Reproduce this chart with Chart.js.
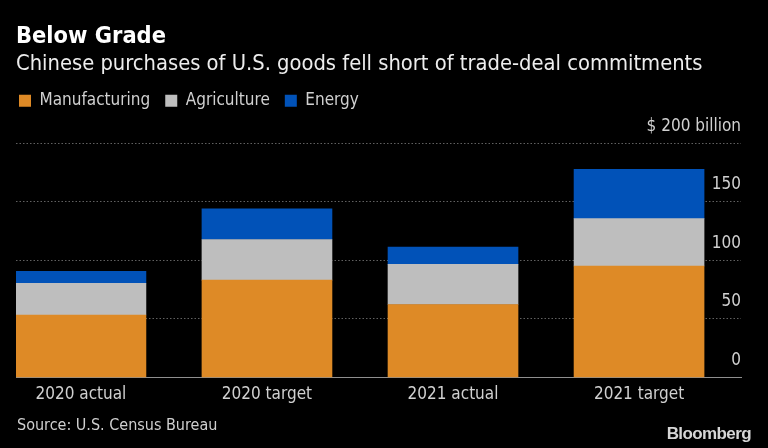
<!DOCTYPE html>
<html><head><meta charset="utf-8">
<script src="https://cdn.jsdelivr.net/npm/chart.js@4/dist/chart.umd.min.js"></script>
<style>html,body{margin:0;padding:0;background:#000;}canvas{display:block;}</style>
</head><body>
<canvas id="c" width="768" height="448"></canvas>
<script>
const categories = ['2020 actual', '2020 target', '2021 actual', '2021 target'];
const manufacturing = [53.4, 83.1, 62.4, 95.2];
const agriculture = [27.1, 34.7, 34.2, 40.4];
const energy = [10.2, 26.2, 14.7, 42.1];
const yTickValues = [0, 50, 100, 150, 200];
const yTopLabel = '$ 200 billion';
const titleText = 'Below Grade';
const subtitleText = 'Chinese purchases of U.S. goods fell short of trade-deal commitments';
const sourceText = 'Source: U.S. Census Bureau';
const brandText = 'Bloomberg';

const FONT = "'DejaVu Sans Condensed', 'DejaVu Sans', sans-serif";
const toPoints = arr => arr.map((v, i) => ({x: i, y: v}));

const extras = {
  id: 'extras',
  beforeLayout(chart) {
    const lg = chart.legend;
    if (lg && !lg._wrapped) {
      const f = lg.fit;
      lg.fit = function () { f.call(this); this.height += 24; };
      lg._wrapped = true;
    }
  },
  afterLayout(chart) {
    if (chart.legend) { chart.legend.left -= 12; chart.legend.right -= 12; }
  },
  afterDraw(chart) {
    const ctx = chart.ctx;
    ctx.save();
    ctx.textBaseline = 'middle';
    ctx.textAlign = 'left';
    ctx.fillStyle = '#cfcfcf';
    ctx.font = '16px ' + FONT;
    ctx.fillText(sourceText, 17, 426);
    ctx.textAlign = 'right';
    ctx.fillStyle = '#d6d6d6';
    ctx.font = "bold 17px 'Liberation Sans', Arial, sans-serif";
    try { ctx.letterSpacing = '-0.6px'; } catch (e) {}
    ctx.fillText(brandText, 751, 434);
    ctx.restore();
  }
};

new Chart(document.getElementById('c'), {
  type: 'bar',
  data: {
    datasets: [
      {label: 'Manufacturing', data: toPoints(manufacturing), backgroundColor: '#DE8A26', stack: 's'},
      {label: 'Agriculture', data: toPoints(agriculture), backgroundColor: '#BEBEBE', stack: 's'},
      {label: 'Energy', data: toPoints(energy), backgroundColor: '#0152B8', stack: 's'}
    ]
  },
  options: {
    responsive: false,
    animation: false,
    devicePixelRatio: 1,
    layout: {padding: {left: 16, right: 27, top: 0, bottom: 36}},
    datasets: {bar: {barThickness: 130, borderWidth: 0}},
    plugins: {
      tooltip: {enabled: false},
      title: {
        display: true, text: titleText, align: 'start', color: '#ffffff',
        font: {family: FONT, size: 23.4, weight: 'bold', lineHeight: 1.2},
        padding: {top: 23, bottom: 0}
      },
      subtitle: {
        display: true, text: subtitleText, align: 'start', color: '#ededed',
        font: {family: FONT, size: 21.75, lineHeight: 1.2},
        padding: {top: 0, bottom: 0}
      },
      legend: {
        position: 'top', align: 'start',
        labels: {
          boxWidth: 12, boxHeight: 12, padding: 15, color: '#d0d0d0',
          font: {family: FONT, size: 17}
        }
      }
    },
    scales: {
      x: {
        type: 'linear', offset: false, min: -0.349, max: 3.548,
        afterBuildTicks: s => { s.ticks = categories.map((_, i) => ({value: i})); },
        grid: {display: false, drawTicks: false, offset: false},
        border: {display: true, color: '#8f8f8f', width: 1},
        ticks: {
          autoSkip: false, maxRotation: 0, padding: 7, color: '#d0d0d0',
          font: {family: FONT, size: 17},
          callback: v => categories[v]
        }
      },
      y: {
        position: 'right', stacked: true, min: 0, max: 200,
        afterBuildTicks: s => { s.ticks = yTickValues.map(v => ({value: v})); },
        afterFit: s => { s.width = 0; },
        grid: {
          drawTicks: false, lineWidth: 1,
          color: c => (c.tick && c.tick.value === 0) ? 'rgba(0,0,0,0)' : 'rgba(255,255,255,0.38)'
        },
        border: {display: false, dash: [1.5, 2]},
        ticks: {
          mirror: true, padding: 0, labelOffset: -17, color: '#d0d0d0',
          font: {family: FONT, size: 17},
          callback: v => v === 200 ? yTopLabel : String(v)
        }
      }
    }
  },
  plugins: [extras]
});
</script>
</body></html>
